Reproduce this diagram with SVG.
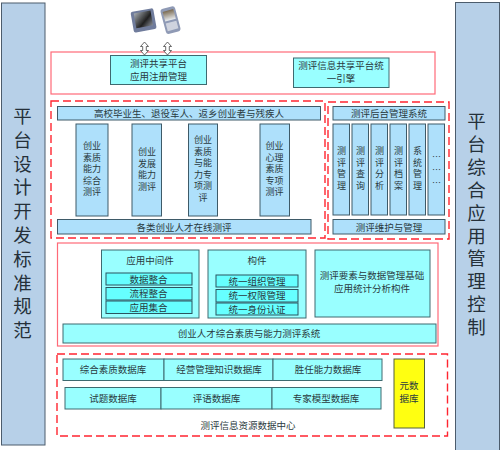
<svg xmlns="http://www.w3.org/2000/svg" width="500" height="450" viewBox="0 0 500 450">
<style>
text{font-family:"Noto Sans CJK SC","Liberation Sans",sans-serif;font-size:9.5px;fill:#2a3a40;text-anchor:middle}
.side{fill:#b7d0e8;stroke:#4c5c6c;stroke-width:1}
.sidet{font-size:18.500px;fill:#25303a;writing-mode:vertical-rl;text-anchor:start}
.red{fill:#fff;stroke:#ff6a78;stroke-width:1.2}
.dash{fill:none;stroke:#ff2530;stroke-width:1.4;stroke-dasharray:8 4}
.blue{fill:#aee0fb;stroke:#3e5a68;stroke-width:1}
.cyan{fill:#99ffff;stroke:#3e6a70;stroke-width:1}
.inner{fill:#66ffff;stroke:#2a5560;stroke-width:1}
.yellow{fill:#ffff11;stroke:#55603a;stroke-width:1}
.arrow{fill:#fff;stroke:#444;stroke-width:.8}
.v{font-size:9px}
.vv{font-size:9px;writing-mode:vertical-rl;text-anchor:start;letter-spacing:2.500px}
</style>
<defs>
<linearGradient id="scr" x1="0" y1="0" x2="1" y2="1"><stop offset="0" stop-color="#a8aeb4"/><stop offset=".6" stop-color="#202020"/><stop offset="1" stop-color="#8a8f98"/></linearGradient>
<linearGradient id="scr2" x1="0" y1="0" x2="0" y2="1"><stop offset="0" stop-color="#7a6a50"/><stop offset="1" stop-color="#e8ecf0"/></linearGradient>
<filter id="soft" x="-10%" y="-10%" width="120%" height="120%"><feGaussianBlur stdDeviation=".6"/></filter>
</defs>

<g id="side-left"><rect class="side" x="1.500" y="3" width="43.500" height="442"/>
<text class="sidet" x="22.500" y="106.750" style="letter-spacing:5.300px">平台设计开发标准规范</text></g>

<g id="side-right"><rect class="side" x="455.500" y="2.500" width="44" height="448"/>
<text class="sidet" x="476.500" y="111.750" style="letter-spacing:4.400px">平台综合应用管理控制</text></g>

<g id="devices" filter="url(#soft)">
<g transform="rotate(-10 143 20)"><rect x="132" y="10" width="23" height="21" rx="2" fill="#6f7c9c"/><rect x="135" y="12" width="17" height="15" fill="url(#scr)"/></g>
<g transform="rotate(-15 171 20)"><rect x="163" y="7" width="15" height="26" rx="3" fill="#8f9ab5"/><rect x="165" y="10" width="11" height="10" fill="url(#scr2)"/><rect x="165" y="22" width="11" height="8" fill="#cfd3de"/></g>
</g>

<g id="group-share"><rect class="red" x="51" y="52" width="384" height="42"/></g>
<g id="group-online"><rect class="dash" x="51" y="101" width="274" height="137"/></g>
<g id="group-admin"><rect class="dash" x="328" y="102" width="121" height="137"/></g>
<g id="group-system"><rect class="red" x="57.500" y="243" width="380.500" height="103"/></g>
<g id="group-data"><rect class="dash" x="57" y="354" width="390.500" height="82"/></g>

<g id="connectors">
<path class="arrow" d="M144.500 42l4 4.500h-2.200v4h2.200l-4 4.500-4-4.500h2.200v-4h-2.200z"/>
<path class="arrow" d="M167.500 42l4 4.500h-2.200v4h2.200l-4 4.500-4-4.500h2.200v-4h-2.200z"/>
</g>

<g id="n-register"><rect class="cyan" x="110.500" y="55.500" width="96" height="29"/><text x="158.500" y="67">测评共享平台</text><text x="158.500" y="80">应用注册管理</text></g>
<g id="n-engine"><rect class="cyan" x="293.500" y="58" width="95.500" height="29.500"/><text x="341" y="69">测评信息共享平台统</text><text x="341" y="82">一引擎</text></g>

<g id="n-top-bar"><rect class="blue" x="57.500" y="106.500" width="263" height="13.500"/><text x="189" y="116.500">高校毕业生、退役军人、返乡创业者与残疾人</text></g>
<g id="n-col1"><rect class="blue" x="76" y="124" width="32" height="92"/><text class="v"><tspan x="92" y="149">创业</tspan><tspan x="92" y="160.500">素质</tspan><tspan x="92" y="172">能力</tspan><tspan x="92" y="183.500">综合</tspan><tspan x="92" y="195">测评</tspan></text></g>
<g id="n-col2"><rect class="blue" x="132" y="124" width="29.500" height="92"/><text class="v"><tspan x="147" y="155">创业</tspan><tspan x="147" y="166.500">发展</tspan><tspan x="147" y="178">能力</tspan><tspan x="147" y="189.500">测评</tspan></text></g>
<g id="n-col3"><rect class="blue" x="188.500" y="124" width="29" height="92"/><text class="v"><tspan x="203" y="143">创业</tspan><tspan x="203" y="154.600">素质</tspan><tspan x="203" y="166.200">与能</tspan><tspan x="203" y="177.800">力专</tspan><tspan x="203" y="189.400">项测</tspan><tspan x="203" y="201">评</tspan></text></g>
<g id="n-col4"><rect class="blue" x="260" y="124" width="29.500" height="92"/><text class="v"><tspan x="274.500" y="149">创业</tspan><tspan x="274.500" y="160.500">心理</tspan><tspan x="274.500" y="172">素质</tspan><tspan x="274.500" y="183.500">专项</tspan><tspan x="274.500" y="195">测评</tspan></text></g>
<g id="n-online-bar"><rect class="blue" x="57.500" y="219.500" width="253.500" height="14.500"/><text x="184" y="230.500">各类创业人才在线测评</text></g>

<g id="n-admin-bar"><rect class="blue" x="333" y="106.500" width="112" height="13.500"/><text x="389" y="116.500">测评后台管理系统</text></g>
<g id="n-a1"><rect class="blue" x="333" y="124" width="16.500" height="91"/><text class="vv" x="341.500" y="146.500">测评管理</text></g>
<g id="n-a2"><rect class="blue" x="352" y="124" width="16.500" height="91"/><text class="vv" x="360.500" y="146.500">测评查询</text></g>
<g id="n-a3"><rect class="blue" x="371" y="124" width="16.500" height="91"/><text class="vv" x="379.500" y="146.500">测评分析</text></g>
<g id="n-a4"><rect class="blue" x="390" y="124" width="16.500" height="91"/><text class="vv" x="398.500" y="146.500">测评档案</text></g>
<g id="n-a5"><rect class="blue" x="409" y="124" width="16.500" height="91"/><text class="vv" x="417.500" y="146.500">系统管理</text></g>
<g id="n-a6"><rect class="blue" x="428" y="124" width="16.500" height="91"/><text class="v"><tspan x="436.500" y="160">…</tspan><tspan x="436.500" y="173">…</tspan><tspan x="436.500" y="185.500">…</tspan></text></g>
<g id="n-maint-bar"><rect class="blue" x="333" y="219.500" width="112" height="14.500"/><text x="389" y="230.500">测评维护与管理</text></g>

<g id="n-middleware"><rect class="cyan" x="101.500" y="250" width="97.500" height="68"/><text x="150" y="264">应用中间件</text>
<rect class="inner" x="106" y="273" width="86" height="12"/><text x="148.500" y="282.500">数据整合</text>
<rect class="inner" x="106" y="287.500" width="86" height="12.500"/><text x="148.500" y="297">流程整合</text>
<rect class="inner" x="106" y="301" width="86" height="12.500"/><text x="148.500" y="310.500">应用集合</text></g>
<g id="n-components"><rect class="cyan" x="208" y="250" width="98" height="68"/><text x="257" y="264">构件</text>
<rect class="inner" x="216" y="275" width="82" height="12"/><text x="257" y="284.500">统一组织管理</text>
<rect class="inner" x="216" y="289.500" width="82" height="12.500"/><text x="257" y="299">统一权限管理</text>
<rect class="inner" x="216" y="303" width="82" height="12"/><text x="257" y="312.500">统一身份认证</text></g>
<g id="n-stats"><rect class="cyan" x="315" y="250" width="115" height="67"/><text x="372" y="279">测评要素与数据管理基础</text><text x="372" y="292">应用统计分析构件</text></g>
<g id="n-system"><rect class="cyan" x="63" y="324" width="373" height="19"/><text x="249" y="336.500">创业人才综合素质与能力测评系统</text></g>

<g id="n-db1"><rect class="cyan" x="63" y="359" width="101" height="21.500"/><text x="113" y="373">综合素质数据库</text></g>
<g id="n-db2"><rect class="cyan" x="164" y="359" width="109" height="21.500"/><text x="219" y="373">经营管理知识数据库</text></g>
<g id="n-db3"><rect class="cyan" x="273" y="359" width="109" height="21.500"/><text x="328" y="373">胜任能力数据库</text></g>
<g id="n-db4"><rect class="cyan" x="65" y="387.500" width="96" height="21.500"/><text x="113" y="401.500">试题数据库</text></g>
<g id="n-db5"><rect class="cyan" x="161" y="387.500" width="111" height="21.500"/><text x="216.500" y="401.500">评语数据库</text></g>
<g id="n-db6"><rect class="cyan" x="272" y="387.500" width="109" height="21.500"/><text x="326" y="401.500">专家模型数据库</text></g>
<g id="n-meta"><rect class="yellow" x="394" y="359" width="30.500" height="69"/><text x="409" y="389">元数</text><text x="409" y="402">据库</text></g>
<text id="label-center" x="248" y="429">测评信息资源数据中心</text>
</svg>
